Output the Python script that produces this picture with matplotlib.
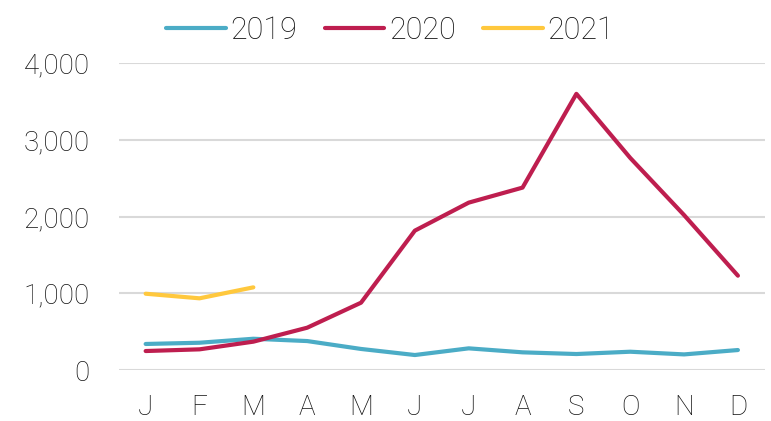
import matplotlib.pyplot as plt
from matplotlib.ticker import FuncFormatter

# dados
meses = ["J", "F", "M", "A", "M", "J", "J", "A", "S", "O", "N", "D"]
v2019 = [340, 356, 408, 378, 275, 196, 283, 231, 209, 239, 204, 261]
v2020 = [248, 270, 370, 552, 878, 1817, 2182, 2378, 3600, 2765, 2020, 1230]
v2021 = [995, 935, 1078]

cores = {"2019": "#4BACC6", "2020": "#BE1E4F", "2021": "#FFC83D"}

plt.rcParams["font.family"] = ["Roboto", "DejaVu Sans"]
plt.rcParams["font.weight"] = "light"

fig = plt.figure(figsize=(7.71, 4.21), dpi=100)
ax = fig.add_axes([0.154, 0.121, 0.838, 0.729])

x = list(range(len(meses)))
ax.plot(x, v2019, color=cores["2019"], lw=3, label="2019", solid_capstyle="round")
ax.plot(x, v2020, color=cores["2020"], lw=3, label="2020", solid_capstyle="round")
ax.plot(x[:len(v2021)], v2021, color=cores["2021"], lw=3, label="2021", solid_capstyle="round")

ax.set_xlim(-0.5, 11.5)
ax.set_ylim(0, 4000)
ax.set_yticks([0, 1000, 2000, 3000, 4000])
ax.yaxis.set_major_formatter(FuncFormatter(lambda v, p: f"{int(v):,}"))
ax.set_xticks(x)
ax.set_xticklabels(meses)
ax.grid(axis="y", color="#d9d9d9", lw=1.5)
ax.set_axisbelow(True)
for s in ax.spines.values():
    s.set_visible(False)
ax.tick_params(length=0, labelsize=20, colors="#111111")
ax.tick_params(axis="y", pad=21)
ax.tick_params(axis="x", pad=17)
for t in ax.get_xticklabels() + ax.get_yticklabels():
    t.set_fontweight("light")

leg = ax.legend(loc="lower center", bbox_to_anchor=(0.42, 1.0), ncol=3, frameon=False,
                fontsize=22, handlelength=1.95, handletextpad=0.15, columnspacing=0.9,
                borderaxespad=0.2)
for t in leg.get_texts():
    t.set_fontweight("light")
    t.set_color("#111111")

fig.savefig("out.png", dpi=100)
